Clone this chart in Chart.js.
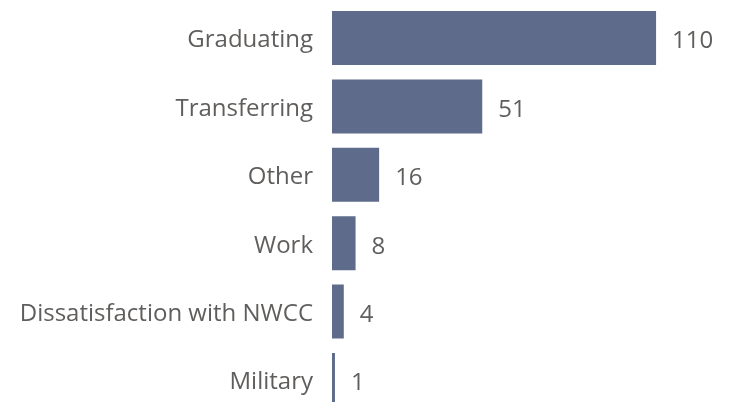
<!DOCTYPE html>
<html>
<head>
<meta charset="utf-8">
<script src="https://cdn.jsdelivr.net/npm/chart.js@4/dist/chart.umd.min.js"></script>
<style>
  html, body { margin: 0; padding: 0; background: #fff; overflow: hidden; }
  #wrap { width: 732px; height: 402px; overflow: hidden; }
</style>
</head>
<body>
<div id="wrap"><canvas id="myChart" width="732" height="418"></canvas></div>
<script>
var categories = ['Graduating', 'Transferring', 'Other', 'Work', 'Dissatisfaction with NWCC', 'Military'];
var counts = [110, 51, 16, 8, 4, 1];

var textColor = '#605E5C';
var barColor = '#5E6B8A';
var fontFamily = '"Open Sans", "Segoe UI", sans-serif';

// draws the count just right of each bar
var valueLabels = {
    id: 'valueLabels',
    afterDatasetsDraw: function (chart) {
        var ctx = chart.ctx;
        var meta = chart.getDatasetMeta(0);
        ctx.save();
        ctx.font = '24px ' + fontFamily;
        ctx.fillStyle = textColor;
        ctx.textAlign = 'left';
        ctx.textBaseline = 'middle';
        meta.data.forEach(function (bar, i) {
            ctx.fillText(String(counts[i]), bar.x + 16, bar.y + 3.5);
        });
        ctx.restore();
    }
};

var ctx = document.getElementById('myChart').getContext('2d');
var myChart = new Chart(ctx, {
    type: 'bar',
    data: {
        labels: categories,
        datasets: [{
            data: counts,
            backgroundColor: barColor,
            barPercentage: 0.79,
            categoryPercentage: 1.0
        }]
    },
    options: {
        indexAxis: 'y',
        responsive: false,
        animation: false,
        layout: { padding: { top: 3.8, bottom: 3.8, left: 0, right: 17 } },
        plugins: {
            legend: { display: false },
            tooltip: { enabled: false }
        },
        scales: {
            x: {
                display: false,
                min: 0,
                max: 130
            },
            y: {
                grid: { display: false, drawTicks: false },
                border: { display: false },
                ticks: {
                    color: textColor,
                    padding: 19,
                    labelOffset: 2.5,
                    font: { family: fontFamily, size: 24 }
                },
                afterFit: function (scale) {
                    scale.width = 332;
                    scale.paddingTop = 0;
                    scale.paddingBottom = 0;
                }
            }
        }
    },
    plugins: [valueLabels]
});
</script>
</body>
</html>
